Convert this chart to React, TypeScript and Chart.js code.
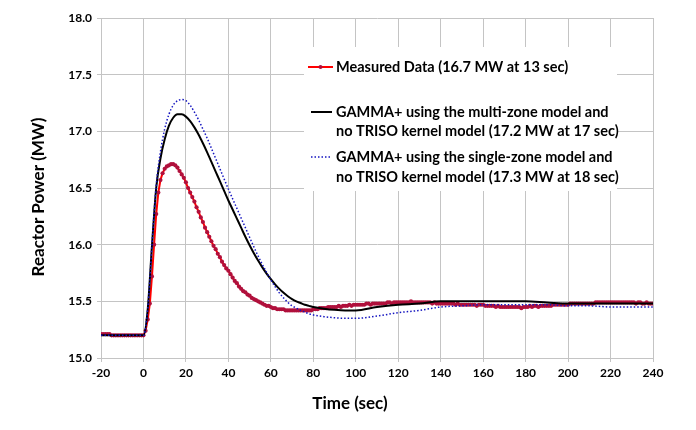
import React, { useEffect, useRef } from "react";
import { Chart, registerables } from "chart.js";

Chart.register(...registerables);

// ---- Data ----
// measured data: one reading per second from -20 s to 240 s
const measuredStart = -20;
const measuredPower: number[] = [
  15.21, 15.21, 15.21, 15.21, 15.21, 15.2, 15.2, 15.2, 15.2, 15.2,
  15.2, 15.2, 15.2, 15.2, 15.2, 15.2, 15.2, 15.2, 15.2, 15.2,
  15.2,
  15.24, 15.34, 15.48, 15.72, 16.0, 16.27, 16.46, 16.57, 16.63, 16.67,
  16.69, 16.7, 16.71, 16.71, 16.7, 16.68, 16.65, 16.62, 16.59, 16.55,
  16.5, 16.46, 16.42, 16.38, 16.33, 16.29, 16.24, 16.2, 16.15, 16.11,
  16.07, 16.03, 15.99, 15.96, 15.92, 15.89, 15.85, 15.82, 15.79, 15.77,
  15.74, 15.71, 15.68, 15.66, 15.63, 15.61, 15.59, 15.58, 15.56, 15.55,
  15.53, 15.52, 15.51, 15.5, 15.49, 15.48, 15.47, 15.46, 15.46, 15.45,
  15.44, 15.44, 15.43, 15.43, 15.43, 15.43, 15.42, 15.42, 15.42, 15.42,
  15.42, 15.42, 15.42, 15.42, 15.42, 15.42, 15.42, 15.42, 15.42, 15.43,
  15.43, 15.43, 15.44, 15.44, 15.44, 15.44, 15.45, 15.45, 15.45, 15.45,
  15.45, 15.46, 15.45, 15.46, 15.46, 15.46, 15.47, 15.46, 15.47, 15.47,
  15.47, 15.47, 15.47, 15.47, 15.48, 15.48, 15.47, 15.48, 15.48, 15.48,
  15.48, 15.48, 15.48, 15.48, 15.49, 15.49, 15.48, 15.49, 15.49, 15.49,
  15.49, 15.49, 15.49, 15.49, 15.49, 15.5, 15.49, 15.49, 15.49, 15.49,
  15.49, 15.49, 15.49, 15.49, 15.49, 15.48, 15.49, 15.48, 15.48, 15.48,
  15.48, 15.48, 15.48, 15.48, 15.48, 15.48, 15.47, 15.48, 15.47, 15.47,
  15.47, 15.47, 15.47, 15.47, 15.47, 15.47, 15.46, 15.47, 15.47, 15.47,
  15.46, 15.46, 15.46, 15.46, 15.46, 15.45, 15.46, 15.45, 15.45, 15.45,
  15.45, 15.45, 15.45, 15.45, 15.45, 15.45, 15.45, 15.44, 15.45, 15.45,
  15.45, 15.46, 15.45, 15.46, 15.46, 15.45, 15.46, 15.46, 15.46, 15.46,
  15.46, 15.46, 15.47, 15.47, 15.47, 15.47, 15.47, 15.47, 15.47, 15.47,
  15.48, 15.48, 15.48, 15.48, 15.48, 15.48, 15.48, 15.48, 15.48, 15.48,
  15.48, 15.48, 15.49, 15.49, 15.49, 15.49, 15.49, 15.49, 15.49, 15.49,
  15.49, 15.49, 15.49, 15.49, 15.49, 15.49, 15.49, 15.49, 15.49, 15.49,
  15.49, 15.48, 15.49, 15.49, 15.48, 15.48, 15.49, 15.48, 15.48, 15.48,
];
const measuredTime: number[] = measuredPower.map((_, i) => measuredStart + i);

const multiTime: number[] = [
  -20, 0, 2, 4, 6, 8, 10, 12, 14, 16, 18, 20, 22, 24, 26, 28, 30, 32, 34, 36, 38, 40, 42, 44, 46, 48, 50,
  52, 54, 56, 58, 60, 62, 64, 66, 68, 70, 72, 74, 76, 78, 80, 85, 90, 95, 100, 110, 120, 130, 140, 150, 160,
  170, 180, 190, 200, 210, 220, 230, 240,
];
const multiPower: number[] = [
  15.2, 15.2, 15.43, 15.99, 16.5, 16.76, 16.93, 17.05, 17.12, 17.15, 17.15, 17.13, 17.09, 17.035, 16.97,
  16.895, 16.815, 16.73, 16.645, 16.56, 16.475, 16.39, 16.31, 16.23, 16.15, 16.07, 15.995, 15.925, 15.86,
  15.8, 15.745, 15.695, 15.65, 15.61, 15.575, 15.545, 15.52, 15.5, 15.485, 15.47, 15.46, 15.45, 15.435,
  15.425, 15.42, 15.42, 15.45, 15.47, 15.48, 15.5, 15.5, 15.5, 15.5, 15.5, 15.49, 15.48, 15.48, 15.48,
  15.48, 15.48,
];

const singleTime: number[] = [
  -20, 0, 2, 4, 6, 8, 10, 12, 14, 16, 18, 20, 22, 24, 26, 28, 30, 32, 34, 36, 38, 40, 42, 44, 46, 48, 50,
  52, 54, 56, 58, 60, 62, 64, 66, 68, 70, 72, 74, 76, 78, 80, 85, 90, 95, 100, 110, 120, 130, 140, 150, 160,
  170, 180, 190, 200, 210, 220, 230, 240,
];
const singlePower: number[] = [
  15.2, 15.2, 15.43, 16.0, 16.52, 16.82, 17.02, 17.15, 17.23, 17.27, 17.28, 17.27, 17.23, 17.17, 17.1,
  17.02, 16.94, 16.85, 16.76, 16.67, 16.58, 16.49, 16.405, 16.32, 16.235, 16.15, 16.065, 15.98, 15.9,
  15.825, 15.755, 15.69, 15.63, 15.575, 15.53, 15.49, 15.46, 15.44, 15.42, 15.405, 15.39, 15.38, 15.365,
  15.355, 15.35, 15.35, 15.37, 15.4, 15.42, 15.45, 15.46, 15.47, 15.47, 15.47, 15.47, 15.46, 15.46, 15.45,
  15.45, 15.45,
];

const legendMeasured = ["Measured Data (16.7 MW at 13 sec)"];
const legendMulti = ["GAMMA+ using the multi-zone model and", "no TRISO kernel model (17.2 MW at 17 sec)"];
const legendSingle = ["GAMMA+ using the single-zone model and", "no TRISO kernel model (17.3 MW at 18 sec)"];
const xTitle = "Time (sec)";
const yTitle = "Reactor Power (MW)";

const FONT = "Lato, 'Open Sans', 'Liberation Sans', sans-serif";
const RED = "#ff0000";
const MARKER = "#b0103c";
const BLUE = "#1515c0";

const toXY = (t: number[], v: number[]) => t.map((x, i) => ({ x, y: v[i] }));

const overlayPlugin = {
  id: "overlay",
  afterDraw(chart: any) {
    const ctx = chart.ctx as CanvasRenderingContext2D;
    ctx.save();
    // axis titles
    ctx.fillStyle = "#000";
    ctx.font = `bold 17px ${FONT}`;
    ctx.textAlign = "center";
    ctx.textBaseline = "middle";
    ctx.fillText(xTitle, 350, 404);
    ctx.save();
    ctx.translate(39, 197);
    ctx.rotate(-Math.PI / 2);
    ctx.fillText(yTitle, 0, 0);
    ctx.restore();

    // legend box
    ctx.fillStyle = "#fff";
    ctx.fillRect(304, 47, 313, 144);
    ctx.fillStyle = "#000";
    ctx.font = `bold 14.5px ${FONT}`;
    ctx.textAlign = "left";
    ctx.textBaseline = "middle";
    const tx = 336;
    // measured
    ctx.strokeStyle = RED;
    ctx.lineWidth = 2;
    ctx.setLineDash([]);
    ctx.beginPath();
    ctx.moveTo(308, 67);
    ctx.lineTo(333, 67);
    ctx.stroke();
    ctx.fillStyle = MARKER;
    ctx.beginPath();
    ctx.arc(320.5, 67, 2, 0, Math.PI * 2);
    ctx.fill();
    ctx.fillStyle = "#000";
    ctx.fillText(legendMeasured[0], tx, 67);
    // multi
    ctx.strokeStyle = "#000";
    ctx.lineWidth = 2;
    ctx.beginPath();
    ctx.moveTo(311, 112);
    ctx.lineTo(332, 112);
    ctx.stroke();
    ctx.fillText(legendMulti[0], tx, 112);
    ctx.fillText(legendMulti[1], tx, 131);
    // single
    ctx.strokeStyle = BLUE;
    ctx.lineWidth = 1.5;
    ctx.setLineDash([1.5, 2]);
    ctx.beginPath();
    ctx.moveTo(311, 157);
    ctx.lineTo(332, 157);
    ctx.stroke();
    ctx.setLineDash([]);
    ctx.fillText(legendSingle[0], tx, 157);
    ctx.fillText(legendSingle[1], tx, 177);
    ctx.restore();
  },
};

export default function App() {
  const canvasRef = useRef<HTMLCanvasElement | null>(null);

  useEffect(() => {
    document.body.style.margin = "0";
    const canvas = canvasRef.current;
    if (!canvas) return;
    const chart = new Chart(canvas, {
      type: "line",
      data: {
        datasets: [
          {
            label: legendMeasured[0],
            data: toXY(measuredTime, measuredPower),
            borderColor: RED,
            borderWidth: 2,
            pointRadius: 2.1,
            pointBackgroundColor: MARKER,
            pointBorderColor: MARKER,
            pointBorderWidth: 0,
            tension: 0,
            order: 3,
          },
          {
            label: legendMulti.join(" "),
            data: toXY(multiTime, multiPower),
            borderColor: "#000000",
            borderWidth: 2,
            pointRadius: 0,
            cubicInterpolationMode: "monotone",
            order: 2,
          },
          {
            label: legendSingle.join(" "),
            data: toXY(singleTime, singlePower),
            borderColor: BLUE,
            borderWidth: 1.5,
            borderDash: [1.5, 2],
            pointRadius: 0,
            cubicInterpolationMode: "monotone",
            order: 1,
          },
        ],
      },
      options: {
        responsive: false,
        animation: false,
        layout: { padding: { top: 18, right: 43, left: 0, bottom: 0 } },
        plugins: { legend: { display: false }, tooltip: { enabled: false } },
        scales: {
          x: {
            type: "linear",
            min: -20,
            max: 240,
            ticks: { stepSize: 20, color: "#000", font: { family: FONT, size: 12, weight: "bold" }, padding: 4 },
            grid: { color: "#c4c4c4", tickLength: 4, lineWidth: 1 },
            border: { color: "#c4c4c4" },
            afterFit: (s: any) => {
              s.height = 72;
            },
          },
          y: {
            type: "linear",
            min: 15,
            max: 18,
            ticks: {
              stepSize: 0.5,
              color: "#000",
              font: { family: FONT, size: 12, weight: "bold" },
              padding: 5,
              callback: (v: any) => Number(v).toFixed(1),
            },
            grid: { color: "#c4c4c4", tickLength: 4, lineWidth: 1 },
            border: { color: "#c4c4c4" },
            afterFit: (s: any) => {
              s.width = 101;
            },
          },
        },
      },
      plugins: [overlayPlugin],
    });
    return () => chart.destroy();
  }, []);

  return (
    <div style={{ width: 696, height: 430, background: "#fff" }}>
      <canvas ref={canvasRef} width={696} height={430} style={{ display: "block" }} />
    </div>
  );
}
